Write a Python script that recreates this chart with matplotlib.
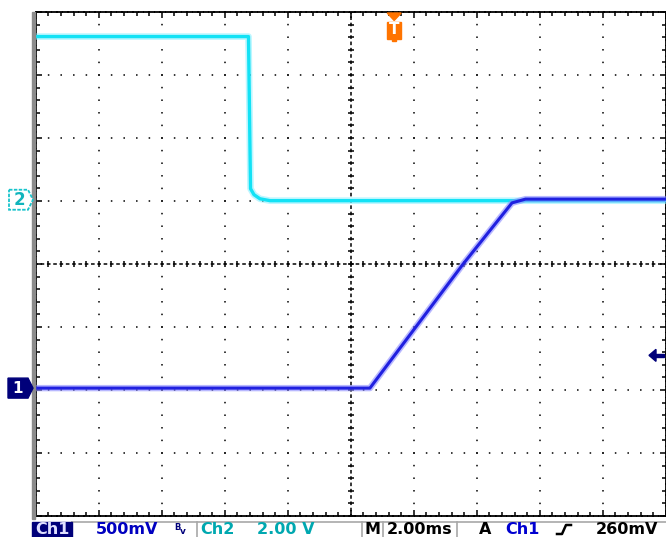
import numpy as np
import matplotlib
matplotlib.use("Agg")
import matplotlib.pyplot as plt
from matplotlib.patches import Polygon, Rectangle
from matplotlib.lines import Line2D

plt.rcParams['lines.scale_dashes'] = False
plt.rcParams['font.family'] = ['DejaVu Sans']

# ---------------- data ----------------
time_per_div = 2.0          # ms/div
ch1_scale = 0.5             # V/div
ch2_scale = 2.0             # V/div
ch1_offset = -1.97          # div (ground marker position)
ch2_offset = 1.02           # div

ch1_t = [0.0, 10.61, 13.57, 15.12, 15.55, 20.0]          # ms
ch1_v = [0.0, 0.0, 0.985, 1.47, 1.50, 1.50]              # V

ch2_t = [0.0, 6.755, 6.82, 6.93, 7.12, 7.44, 20.0]       # ms
ch2_v = [5.18, 5.18, 0.35, 0.16, 0.03, -0.03, -0.03]     # V

trigger_t = 11.38           # ms
trigger_level = 0.26        # V on Ch1

status_labels = ["Ch1", "500mV", "Ch2", "2.00 V", "M", "2.00ms", "A", "Ch1", "260mV"]

# ---------------- figure ----------------
W, H = 666, 537
fig = plt.figure(figsize=(W / 100, H / 100), dpi=100)
fig.patch.set_facecolor("white")


def fx(x):
    return x / W


def fy(y):
    return 1 - y / H


def P(pts):
    return [(fx(x), fy(y)) for x, y in pts]


ax = fig.add_axes([35.7 / W, 21 / H, 630 / W, 504 / H])
ax.set_xlim(0, 10 * time_per_div)
ax.set_ylim(-4, 4)
ax.set_facecolor("none")

# graticule: dotted major lines
per_pt = 12.6 * 0.72
dot = 1.1
dot_ls = (dot / 2, (dot, per_pt - dot))
for k in range(1, 10):
    if k == 5:
        continue
    ax.axvline(k * time_per_div, color="black", lw=1.1, linestyle=dot_ls, zorder=1)
for k in range(-3, 4):
    if k == 0:
        continue
    ax.axhline(k, color="black", lw=1.1, linestyle=dot_ls, zorder=1)

# center cross with tick marks
cper = 6.3 * 0.72
c_ls = (1.2, (2.6, cper - 2.6))
ax.axvline(5 * time_per_div, color="black", lw=1.1, linestyle=c_ls, zorder=1)
ax.axhline(0, color="black", lw=1.1, linestyle=c_ls, zorder=1)
xm = np.arange(0, 10 * time_per_div + 1e-9, time_per_div / 5)
ym = np.arange(-4, 4 + 1e-9, 0.2)
ax.plot(xm, np.zeros_like(xm), ls="none", marker="|", ms=5, mew=1.1,
        color="black", zorder=1)
ax.plot(np.full_like(ym, 5 * time_per_div), ym, ls="none", marker="_",
        ms=5, mew=1.1, color="black", zorder=1)

# frame ticks
ax.set_xticks(np.arange(0, 10 * time_per_div + 1e-9, time_per_div))
ax.set_yticks(np.arange(-4, 5, 1))
ax.set_xticks(xm, minor=True)
ax.set_yticks(ym, minor=True)
ax.tick_params(which="both", direction="in", top=True, right=True,
               labelbottom=False, labelleft=False, width=1.1, color="black")
ax.tick_params(which="major", length=4.0)
ax.tick_params(which="minor", length=2.6)
for s in ax.spines.values():
    s.set_color("black")
    s.set_linewidth(1.3)
    s.set_linestyle((0, (3.0, 0.9)))

# traces (converted to divisions)
ch2_div = [v / ch2_scale + ch2_offset for v in ch2_v]
ch1_div = [v / ch1_scale + ch1_offset for v in ch1_v]
ax.plot(ch2_t, ch2_div, color="#86f0ff", lw=4.8, alpha=0.55,
        solid_joinstyle="round", zorder=3)
ax.plot(ch2_t, ch2_div, color="#12e2f5", lw=2.4, zorder=4)
ax.plot(ch1_t, ch1_div, color="#8a8aff", lw=4.6, alpha=0.6, zorder=5)
ax.plot(ch1_t, ch1_div, color="#2020e0", lw=2.2, zorder=6)

# ------------- markers (positions derived from data) -------------
fig.canvas.draw()


def to_px(xd, yd):
    dx, dy = ax.transData.transform((xd, yd))
    return dx, H - dy


# left gray bezel strip
fig.patches.append(Rectangle((fx(31.5), fy(519)), 3.5 / W, 507 / H,
                             transform=fig.transFigure, color="#8c8c8c",
                             zorder=0))

# Ch2 ground marker
_, y2 = to_px(0, ch2_offset)
fig.patches.append(Polygon(P([(9, y2 - 10), (28, y2 - 10), (33, y2), (28, y2 + 10),
                              (9, y2 + 10)]), closed=True, transform=fig.transFigure,
                           facecolor="white", edgecolor="#18c4cc", lw=1.3,
                           linestyle=(0, (2.5, 1)), zorder=5))
fig.text(fx(19), fy(y2), "2", color="#10b4bc", fontsize=12, fontweight="bold",
         ha="center", va="center", zorder=6)

# Ch1 ground marker
_, y1 = to_px(0, ch1_offset)
fig.patches.append(Polygon(P([(8, y1 - 10), (28, y1 - 10), (33, y1), (28, y1 + 10),
                              (8, y1 + 10)]), closed=True, transform=fig.transFigure,
                           facecolor="#00007a", edgecolor="#00007a", zorder=5))
fig.text(fx(18), fy(y1), "1", color="white", fontsize=11, fontweight="bold",
         ha="center", va="center", zorder=6)

# trigger position marker (T)
xt, _ = to_px(trigger_t, 0)
orange = "#ff7400"
fig.patches.append(Polygon(P([(xt - 7, 13), (xt + 7, 13), (xt, 20.5)]), closed=True,
                           transform=fig.transFigure, color=orange, zorder=5))
fig.patches.append(Polygon(P([(xt - 7, 21.5), (xt + 7, 21.5), (xt + 7, 38.5),
                              (xt + 2, 38.5), (xt + 2, 41), (xt - 2, 41),
                              (xt - 2, 38.5), (xt - 7, 38.5)]), closed=True,
                           transform=fig.transFigure, color=orange, zorder=5))
fig.text(fx(xt), fy(30), "T", color="white", fontsize=11, fontweight="bold",
         ha="center", va="center", zorder=6)

# trigger level arrow (right edge)
_, yl = to_px(20, trigger_level / ch1_scale + ch1_offset)
navy = "#00007a"
fig.patches.append(Polygon(P([(649, yl), (656, yl - 6), (656, yl + 6)]), closed=True,
                           transform=fig.transFigure, color=navy, zorder=5))
fig.patches.append(Rectangle((fx(655), fy(yl + 1.5)), 9 / W, 3 / H,
                             transform=fig.transFigure, color=navy, zorder=5))

# ---------------- status bar ----------------
gray = "#a8a8a8"
fig.lines.append(Line2D([fx(72), fx(666)], [fy(521.5), fy(521.5)],
                        transform=fig.transFigure, color=gray, lw=1.2))
for xs in [72, 197, 362, 383, 457]:
    fig.lines.append(Line2D([fx(xs), fx(xs)], [fy(521.5), fy(537)],
                            transform=fig.transFigure, color=gray, lw=1.2))
fig.patches.append(Rectangle((fx(32), fy(537)), 40 / W, 15.5 / H,
                             transform=fig.transFigure, color=navy, zorder=2))

base = fy(536.6)
fs = 11.5
kw = dict(va="bottom", ha="center", fontsize=fs, fontweight="semibold")
fig.text(fx(52), base, status_labels[0], color="#e0e0ff", zorder=3, **kw)
fig.text(fx(127.5), base, status_labels[1], color="#0000c0", **kw)
fig.text(fx(174), fy(523), "B", color=navy, fontsize=6, va="top",
         fontweight="bold")
fig.text(fx(180), fy(527), "v", color=navy, fontsize=6.5, va="top",
         fontweight="bold")
fig.text(fx(217.5), base, status_labels[2], color="#00a8b0", **kw)
fig.text(fx(286), base, status_labels[3], color="#00a8b0", **kw)
fig.text(fx(372.5), base, status_labels[4], color="black", **kw)
fig.text(fx(420), base, status_labels[5], color="black", **kw)
fig.text(fx(485), base, status_labels[6], color="black", **kw)
fig.text(fx(522), base, status_labels[7], color="#0000d0", **kw)
fig.lines.append(Line2D([fx(557), fx(562), fx(566), fx(571)],
                        [fy(534), fy(534), fy(525), fy(525)],
                        transform=fig.transFigure, color="black", lw=1.8))
fig.text(fx(627), base, status_labels[8], color="black", **kw)

fig.savefig("out.png", dpi=100, facecolor="white")
